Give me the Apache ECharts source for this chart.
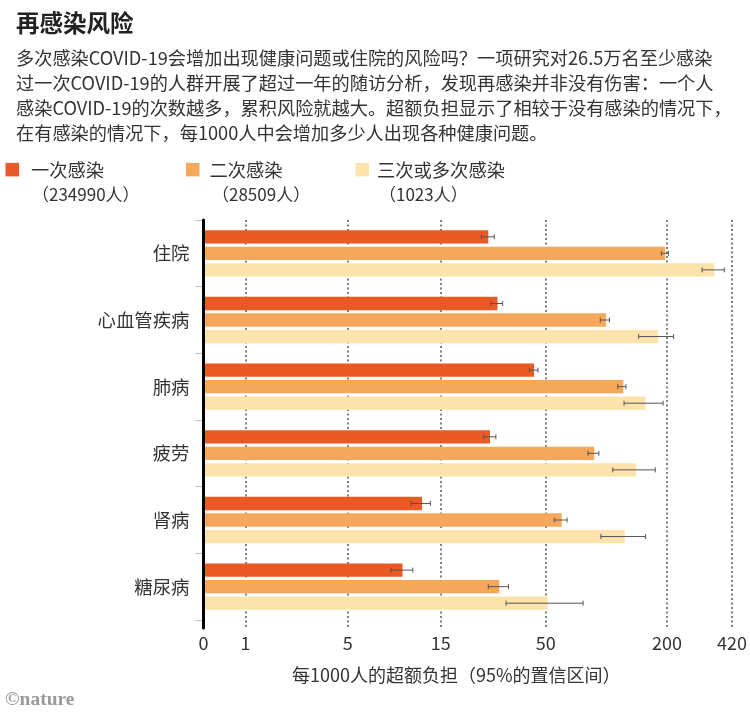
<!DOCTYPE html>
<html>
<head>
<meta charset="utf-8">
<title>再感染风险</title>
<style>
  html, body { margin: 0; padding: 0; background: #fff; }
  #container { width: 750px; height: 717px; }
</style>
<script src="https://cdn.jsdelivr.net/npm/echarts@6/dist/echarts.min.js"></script>
</head>
<body>
<div id="container"></div>
<script>
// values, excess burden per 1000 people
const categories = ['住院', '心血管疾病', '肺病', '疲劳', '肾病', '糖尿病'];
const seriesNames = ['一次感染', '二次感染', '三次或多次感染'];
const seriesCounts = ['（234990人）', '（28509人）', '（1023人）'];
const seriesColors = ['#E95A24', '#F5A85A', '#FCE3AB'];

const once = [25.4, 28.2, 42.8, 25.9, 11.9, 9.5];
const onceLow = [23.5, 26.2, 40.6, 24.1, 10.5, 8.3];
const onceHigh = [27.2, 29.9, 44.7, 27.7, 13.1, 10.7];

const twice = [190, 97, 118, 84.8, 58.6, 28.8];
const twiceLow = [182, 90.8, 110.8, 79, 53.8, 25.4];
const twiceHigh = [197, 100.9, 121.6, 89.4, 62.3, 32];

const more = [332, 175, 152, 136.5, 120, 50];
const moreLow = [289, 140.5, 119, 104.7, 91.5, 31.1];
const moreHigh = [372, 209, 185.5, 169.7, 152, 74.7];

const tickValues = [0, 1, 5, 15, 50, 200, 420];

const heading = '再感染风险';
const intro = [
  '多次感染COVID-19会增加出现健康问题或住院的风险吗？一项研究对26.5万名至少感染',
  '过一次COVID-19的人群开展了超过一年的随访分析，发现再感染并非没有伤害：一个人',
  '感染COVID-19的次数越多，累积风险就越大。超额负担显示了相较于没有感染的情况下，',
  '在有感染的情况下，每1000人中会增加多少人出现各种健康问题。'
];
const xAxisTitle = '每1000人的超额负担（95%的置信区间）';
const credit = '©nature';

// the x axis of the original is symmetric log, linear near 0
const symlog = v => Math.asinh(v / 2);
const unSymlog = v => 2 * Math.sinh(v);

const FONT = '"Noto Sans CJK SC", "Noto Sans", sans-serif';
const TEXT = '#333';
const BAR_SHARE = 0.2;   // bar height as a share of the band
const BAR_GAP = 0.24;    // gap as a share of the bar

const barValues = [once, twice, more];
const lowValues = [onceLow, twiceLow, moreLow];
const highValues = [onceHigh, twiceHigh, moreHigh];

const legendLeft = [5.5, 186, 355.5];
const legendPad = [7, 5, 3];
const countLeft = [32, 212, 379];

const barSeries = seriesNames.map((name, i) => ({
  name: name,
  type: 'bar',
  xAxisIndex: 0,
  yAxisIndex: 0,
  barWidth: (BAR_SHARE * 100) + '%',
  barGap: (BAR_GAP * 100) + '%',
  itemStyle: { color: seriesColors[i] },
  emphasis: { disabled: true },
  data: barValues[i].map(symlog)
}));

const errorSeries = seriesNames.map((name, i) => ({
  type: 'custom',
  xAxisIndex: 0,
  yAxisIndex: 0,
  z: 6,
  silent: true,
  encode: { x: [0, 1], y: 2 },
  data: categories.map((c, k) => [symlog(lowValues[i][k]), symlog(highValues[i][k]), k]),
  renderItem: (params, api) => {
    const low = api.coord([api.value(0), api.value(2)]);
    const high = api.coord([api.value(1), api.value(2)]);
    const band = api.size([0, 1])[1];
    const y = low[1] + (i - 1) * band * BAR_SHARE * (1 + BAR_GAP);
    const style = { stroke: '#555', lineWidth: 1, fill: null };
    const cap = 2.5;
    return {
      type: 'group',
      children: [
        { type: 'line', shape: { x1: low[0], y1: y, x2: high[0], y2: y }, style: style },
        { type: 'line', shape: { x1: low[0], y1: y - cap, x2: low[0], y2: y + cap }, style: style },
        { type: 'line', shape: { x1: high[0], y1: y - cap, x2: high[0], y2: y + cap }, style: style }
      ]
    };
  }
}));

const titles = [
  { text: heading, left: 16, top: 11, padding: 0, textStyle: { fontFamily: FONT, fontSize: 23.5, fontWeight: 'bold', color: '#222' } },
  { text: intro.join('\n'), left: 16, top: 46, padding: 0, textStyle: { fontFamily: FONT, fontSize: 18.2, fontWeight: 'normal', color: TEXT, lineHeight: 25 } },
  { text: xAxisTitle, left: 292, top: 666, padding: 0, textStyle: { fontFamily: FONT, fontSize: 18, fontWeight: 'normal', color: TEXT } },
  { text: credit, left: 5, top: 690, padding: 0, textStyle: { fontFamily: '"Liberation Serif", serif', fontSize: 19.5, fontWeight: 'bold', color: '#9a9a9a' } }
].concat(seriesCounts.map((c, i) => ({
  text: c,
  left: countLeft[i],
  top: 186,
  padding: 0,
  textStyle: { fontFamily: FONT, fontSize: 17, fontWeight: 'normal', color: TEXT }
})));

const legends = seriesNames.map((name, i) => ({
  data: [name],
  left: legendLeft[i],
  top: 160.5,
  padding: 0,
  itemWidth: 13.5,
  itemHeight: 13.5,
  itemGap: 0,
  icon: 'rect',
  selectedMode: false,
  textStyle: { fontFamily: FONT, fontSize: 18.3, color: TEXT, padding: [4, 0, 0, legendPad[i]] }
}));

const chart = echarts.init(document.getElementById('container'), null, { renderer: 'canvas' });

chart.setOption({
  backgroundColor: '#fff',
  animation: false,
  title: titles,
  legend: legends,
  grid: [
    { left: 203.5, width: 531.5, top: 220, height: 400 },
    { left: 203.5, width: 531.5, top: 220, height: 408 }
  ],
  xAxis: [
    {
      gridIndex: 0,
      type: 'value',
      min: 0,
      max: symlog(420),
      show: false
    },
    {
      gridIndex: 1,
      type: 'value',
      min: 0,
      max: symlog(420),
      axisLine: { show: false },
      axisTick: { show: false, customValues: tickValues.map(symlog) },
      axisLabel: {
        customValues: tickValues.map(symlog),
        showMinLabel: true,
        showMaxLabel: true,
        margin: 6,
        fontFamily: FONT,
        fontSize: 18,
        color: TEXT,
        formatter: v => String(Math.round(unSymlog(v)))
      },
      splitLine: {
        show: true,
        showMinLine: false,
        showMaxLine: true,
        lineStyle: { color: '#555', width: 1.5, type: [2, 2.5] }
      }
    }
  ],
  yAxis: [
    {
      gridIndex: 0,
      type: 'category',
      inverse: true,
      data: categories,
      axisLine: { show: false },
      axisTick: { show: true, length: 8, lineStyle: { color: '#bbb', width: 1 } },
      axisLabel: { margin: 14, fontFamily: FONT, fontSize: 18.4, color: TEXT },
      splitLine: { show: false }
    },
    {
      gridIndex: 1,
      type: 'value',
      min: 0,
      max: 1,
      z: 5,
      axisLine: { show: true, lineStyle: { color: '#000', width: 3 } },
      axisTick: { show: false },
      axisLabel: { show: false },
      splitLine: { show: false }
    }
  ],
  series: barSeries.concat(errorSeries)
});

window.addEventListener('resize', () => chart.resize());
</script>
</body>
</html>
